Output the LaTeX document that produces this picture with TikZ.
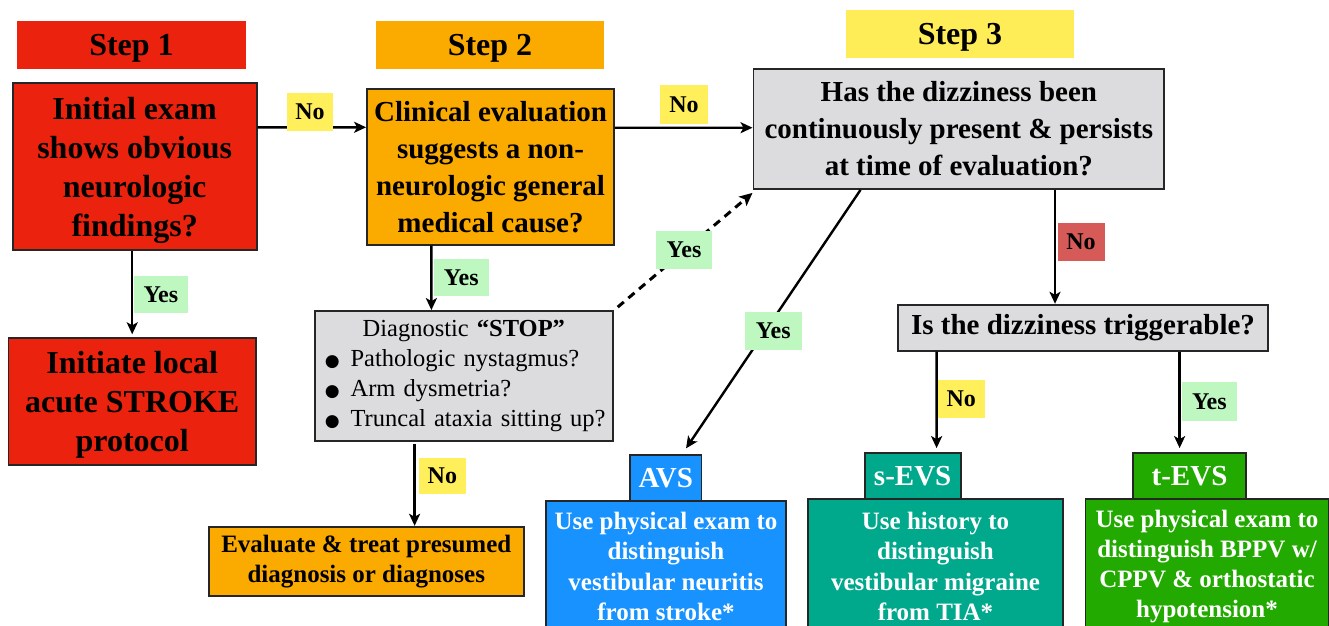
\documentclass[tikz,border=0pt]{standalone}
\usepackage{fontspec}
\setmainfont{Liberation Serif}
\newfontfamily\dejavu{DejaVu Sans}
\usetikzlibrary{arrows.meta,calc}
\definecolor{cRed}{RGB}{234,34,14}
\definecolor{cOrange}{RGB}{251,171,0}
\definecolor{cYellow}{RGB}{255,237,88}
\definecolor{cLabY}{RGB}{255,239,91}
\definecolor{cLabG}{RGB}{190,248,192}
\definecolor{cLabR}{RGB}{214,90,87}
\definecolor{cGray}{RGB}{220,220,222}
\definecolor{cBlue}{RGB}{24,146,255}
\definecolor{cTeal}{RGB}{0,168,140}
\definecolor{cGreen}{RGB}{34,170,0}
\newcommand{\bul}{\makebox[33.8pt][l]{\hspace{8pt}\raisebox{0pt}{\dejavu\fontsize{17}{17}\selectfont ●}}}
\tikzset{
  box/.style={draw=black!85, line width=1.8pt, inner sep=0pt, align=center, font=\bfseries},
  stepbox/.style={draw=none, inner sep=0pt, align=center, font=\bfseries\fontsize{32}{38}\selectfont,
    minimum height=48pt, text height=21pt, text depth=0pt},
  lab/.style={draw=none, inner sep=0pt, font=\bfseries\fontsize{24}{28}\selectfont, minimum height=37.5pt},
  arr/.style={line width=2.4pt, -{Stealth[length=12pt,width=11pt,inset=3pt]}},
  dasharr/.style={line width=3pt, dash pattern=on 8pt off 6pt, -{Stealth[length=13pt,width=12pt,inset=3pt]}},
  wtext/.style={text=white},
}
\begin{document}
\begin{tikzpicture}[x=1pt,y=-1pt]
\useasboundingbox (0,0) rectangle (1329,625);
\path[clip] (0,0) rectangle (1329,625);
\fill[white] (0,0) rectangle (1329,625);

% step headers
\node[stepbox, fill=cRed, minimum width=229.5pt] (s1) at (131.5,44.7) {Step 1};
\node[stepbox, fill=cOrange, minimum width=228.6pt] (s2) at (490,45) {Step 2};
\node[stepbox, fill=cYellow, minimum width=228.4pt] (s3) at (960,34) {Step 3};

% main boxes
\node[box, fill=cRed, minimum width=244pt, minimum height=166.7pt, text depth=0pt,
  font=\bfseries\fontsize{32}{39}\selectfont] (A) at (134.65,166.65)
  {Initial exam\\shows obvious\\neurologic\\findings?};
\node[box, fill=cOrange, minimum width=247pt, minimum height=155.7pt,
  font=\bfseries\fontsize{29}{37}\selectfont] (B) at (490.5,166.85)
  {Clinical evaluation\\suggests a non-\\neurologic general\\medical cause?};
\node[box, fill=cGray, minimum width=410.9pt, minimum height=120pt,
  font=\bfseries\fontsize{29}{37}\selectfont] (C) at (958.85,129)
  {Has the dizziness been\\continuously present \& persists\\at time of evaluation?};
\node[box, fill=cGray, minimum width=298pt, minimum height=130pt,
  font=\fontsize{24.5}{30}\selectfont, align=left, text width=294pt] (D) at (463.8,376)
  {\makebox[\linewidth][c]{Diagnostic \textbf{“STOP”}}\\
   \bul Pathologic nystagmus?\\
   \bul Arm dysmetria?\\
   \bul Truncal ataxia sitting up?};
\node[box, fill=cRed, minimum width=247.6pt, minimum height=127.3pt, text depth=0pt,
  font=\bfseries\fontsize{32}{39}\selectfont] (E) at (132.2,401.35)
  {Initiate local\\acute STROKE\\protocol};
\node[box, fill=cOrange, minimum width=314.6pt, minimum height=69.6pt,
  font=\bfseries\fontsize{25}{30}\selectfont] (F) at (366.3,561.5)
  {Evaluate \& treat presumed\\diagnosis or diagnoses};
\node[box, fill=cGray, minimum width=370.4pt, minimum height=46pt,
  font=\bfseries\fontsize{29}{35}\selectfont] (G) at (1083,327.7)
  {Is the dizziness triggerable?};

% outcome boxes
\node[box, fill=cBlue, wtext, minimum width=240pt, minimum height=130.7pt,
  font=\bfseries\fontsize{25}{30.2}\selectfont] (avsB) at (666,566.35)
  {Use physical exam to\\distinguish\\vestibular neuritis\\from stroke*};
\node[box, fill=cBlue, wtext, minimum width=71.5pt, minimum height=45.7pt,
  font=\bfseries\fontsize{29}{34}\selectfont] (avsL) at (665.75,478.15) {AVS};
\node[box, fill=cTeal, wtext, minimum width=255pt, minimum height=134pt,
  font=\bfseries\fontsize{25}{30.2}\selectfont] (sevsB) at (935.5,566.35)
  {Use history to\\distinguish\\vestibular migraine\\from TIA*};
\node[box, fill=cTeal, wtext, minimum width=96pt, minimum height=46.3pt,
  font=\bfseries\fontsize{29}{34}\selectfont] (sevsL) at (912.65,476.15) {s-EVS};
\node[box, fill=cGreen, wtext, minimum width=243pt, minimum height=134pt,
  font=\bfseries\fontsize{25}{30.2}\selectfont] (tevsB) at (1207,566.35)
  {Use physical exam to\\distinguish BPPV w/\\CPPV \& orthostatic\\hypotension*};
\node[box, fill=cGreen, wtext, minimum width=113pt, minimum height=46.3pt,
  font=\bfseries\fontsize{29}{34}\selectfont] (tevsL) at (1189.5,476.15) {t-EVS};

% connectors
\draw[arr] ($(A.south)+(-2.45,0)$) -- ($(E.north)+(0,-2.5)$);
\draw[arr] ($(A.east)+(0,-39.35)$) -- ($(B.west)+(0,-39.55)$);
\draw[arr] ($(B.east)+(0,-39.15)$) -- ($(C.west)+(0,-1.3)$);
\draw[arr] ($(B.south)+(-59.1,0)$) -- ($(D.north)+(-32.4,0)$);
\draw[arr] ($(D.south)+(-49.2,2)$) -- ($(F.north)+(48.3,0)$);
\draw[dasharr] ($(D.north east)+(4,-3)$) -- ($(C.south west)+(0,3)$);
\draw[arr] ($(C.south)+(-98.35,0)$) -- ($(avsL.north)+(20.25,-6)$);
\draw[arr] ($(C.south)+(96.15,0)$) -- ($(G.north)+(-28,0)$);
\draw[arr] ($(G.south)+(-146.4,0)$) -- ($(sevsL.north)+(23.95,-4)$);
\draw[arr] ($(G.south)+(96.6,0)$) -- ($(tevsL.north)+(-9.9,-4)$);

% labels
\node[lab, fill=cLabY, minimum width=46pt] (lNoA) at (310,111.85) {No};
\node[lab, fill=cLabY, minimum width=48pt, minimum height=39pt] (lNoB) at (684,104.5) {No};
\node[lab, fill=cLabG, minimum width=53.7pt] (lYesA) at (160.85,294.5) {Yes};
\node[lab, fill=cLabG, minimum width=55.5pt] (lYesB) at (461.25,277.5) {Yes};
\node[lab, fill=cLabG, minimum width=56pt, minimum height=38pt] (lYesD) at (684,250) {Yes};
\node[lab, fill=cLabR, minimum width=47pt, minimum height=38.3pt] (lNoC) at (1081,241.85) {No};
\node[lab, fill=cLabG, minimum width=57pt] (lYesC) at (773.25,330.8) {Yes};
\node[lab, fill=cLabY, minimum width=47pt, minimum height=36.6pt] (lNoD) at (442.4,476) {No};
\node[lab, fill=cLabY, minimum width=47.4pt, minimum height=38.3pt] (lNoG) at (961.3,399.15) {No};
\node[lab, fill=cLabG, minimum width=55.3pt, minimum height=38.7pt] (lYesG) at (1209.35,401.35) {Yes};
\end{tikzpicture}
\end{document}
